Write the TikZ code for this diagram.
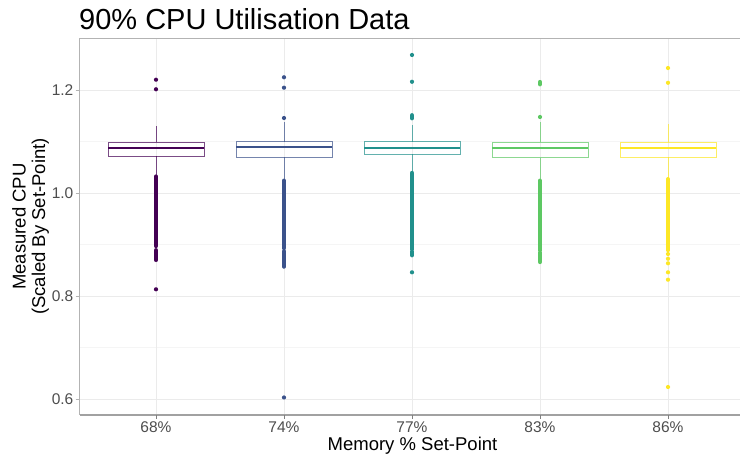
\documentclass[tikz,border=0pt]{standalone}
\usepackage{fontspec}
\setmainfont{Liberation Sans}
\definecolor{vA}{HTML}{440154}
\definecolor{vB}{HTML}{3B528B}
\definecolor{vC}{HTML}{21908C}
\definecolor{vD}{HTML}{5DC863}
\definecolor{vE}{HTML}{FDE725}
\definecolor{gmaj}{HTML}{EBEBEB}
\definecolor{gmin}{HTML}{F5F5F5}
\definecolor{frame}{HTML}{B3B3B3}
\definecolor{ticktxt}{HTML}{4D4D4D}
\newcommand\py[1]{193-515*(#1-1)}
\tikzset{
  gridmajor/.style={draw=gmaj,line width=0.9pt},
  gridminor/.style={draw=gmin,line width=0.5pt},
  boxline/.style={line width=1pt,draw opacity=0.7},
  medline/.style={line width=1.8pt},
  ticklab/.style={text=ticktxt,font=\fontsize{15.5}{18}\selectfont,inner sep=0pt},
  tickmark/.style={draw=frame,line width=0.8pt},
}
\newcommand\bxp[7]{%
  \draw[boxline,draw=#2] ({#1},{\py{#5}}) -- ({#1},{\py{#7}});
  \draw[boxline,draw=#2] ({#1},{\py{#3}}) -- ({#1},{\py{#6}});
  \draw[boxline,draw=#2] ({#1-48},{\py{#3}}) rectangle ({#1+48},{\py{#5}});
  \draw[medline,draw=#2] ({#1-48},{\py{#4}}) -- ({#1+48},{\py{#4}});
}
\newcommand\optdot[3]{\fill[#1] ({#2},{\py{#3}}) circle (2.1);}
\newcommand\dens[4]{\draw[#1,line width=4.2pt,line cap=round] ({#2},{\py{#3}}) -- ({#2},{\py{#4}});}
\begin{document}
\begin{tikzpicture}[x=1pt,y=-1pt]
\useasboundingbox (0,0) rectangle (740,461);
\fill[white] (0,0) rectangle (740,461);
\begin{scope}
\clip (0,0) rectangle (740,461);
% grid
\foreach \v in {0.7,0.9,1.1} {\draw[gridminor] (79.5,{\py{\v}}) -- (745,{\py{\v}});}
\foreach \v in {0.6,0.8,1.0,1.2} {\draw[gridmajor] (79.5,{\py{\v}}) -- (745,{\py{\v}});}
\foreach \xx in {156,284,412,540,668} {\draw[gridmajor] (\xx,38) -- (\xx,415);}
% 68%
\bxp{156}{vA}{1.0718}{1.0868}{1.0984}{1.035}{1.1307}
\optdot{vA}{156}{1.220}\optdot{vA}{156}{1.2014}
\dens{vA}{156}{1.032}{0.897}
\dens{vA}{156}{0.889}{0.870}
\optdot{vA}{156}{0.813}
% 74%
\bxp{284}{vB}{1.0693}{1.0887}{1.0996}{1.027}{1.1373}
\optdot{vB}{284}{1.2247}\optdot{vB}{284}{1.2045}\optdot{vB}{284}{1.1456}
\dens{vB}{284}{1.024}{0.893}
\dens{vB}{284}{0.887}{0.857}
\optdot{vB}{284}{0.603}
% 77%
\bxp{412}{vC}{1.0751}{1.088}{1.0996}{1.042}{1.132}
\optdot{vC}{412}{1.268}\optdot{vC}{412}{1.216}
\dens{vC}{412}{1.151}{1.145}
\dens{vC}{412}{1.039}{0.891}
\dens{vC}{412}{0.886}{0.879}
\optdot{vC}{412}{0.846}
% 83%
\bxp{540}{vD}{1.0685}{1.0868}{1.099}{1.027}{1.138}
\dens{vD}{540}{1.2155}{1.211}
\optdot{vD}{540}{1.1476}
\dens{vD}{540}{1.024}{0.889}
\dens{vD}{540}{0.884}{0.866}
% 86%
\bxp{668}{vE}{1.0693}{1.0868}{1.099}{1.029}{1.134}
\optdot{vE}{668}{1.2427}\optdot{vE}{668}{1.214}
\dens{vE}{668}{1.027}{0.889}
\optdot{vE}{668}{0.8816}\optdot{vE}{668}{0.8724}\optdot{vE}{668}{0.8635}
\optdot{vE}{668}{0.846}\optdot{vE}{668}{0.8317}
\optdot{vE}{668}{0.6233}
% frame
\draw[frame,line width=1pt] (745,38) -- (79.5,38) -- (79.5,415);
\draw[draw=frame!90!black,line width=1.3pt] (79.5,415) -- (745,415);
\end{scope}
% ticks and labels
\foreach \v/\t [count=\i] in {0.6/0.6,0.8/0.8,1.0/1.0,1.2/1.2} {
  \draw[tickmark] (75.5,{\py{\v}}) -- (79.5,{\py{\v}});
  \node[ticklab,anchor=east] (yl\i) at (73.5,{\py{\v}}) {\t};
}
\foreach \xx/\t [count=\i] in {156/68\%,284/74\%,412/77\%,540/83\%,668/86\%} {
  \draw[tickmark,draw=gray] (\xx,415) -- (\xx,419);
  \node[ticklab,anchor=base] (xl\i) at (\xx,432) {\t};
}
\node[anchor=base,inner sep=0pt,font=\fontsize{18.5}{20}\selectfont] (xtitle) at (412.5,450.5) {Memory \% Set-Point};
\node[rotate=90,align=center,inner sep=0pt,font=\fontsize{18.5}{19.5}\selectfont] (ytitle) at (30.5,226.5) {Measured CPU\\(Scaled By Set-Point)};
\node[anchor=base west,inner sep=0pt,font=\fontsize{29}{31}\selectfont] (title) at (79,29.5) {90\% CPU Utilisation Data};
\end{tikzpicture}
\end{document}
